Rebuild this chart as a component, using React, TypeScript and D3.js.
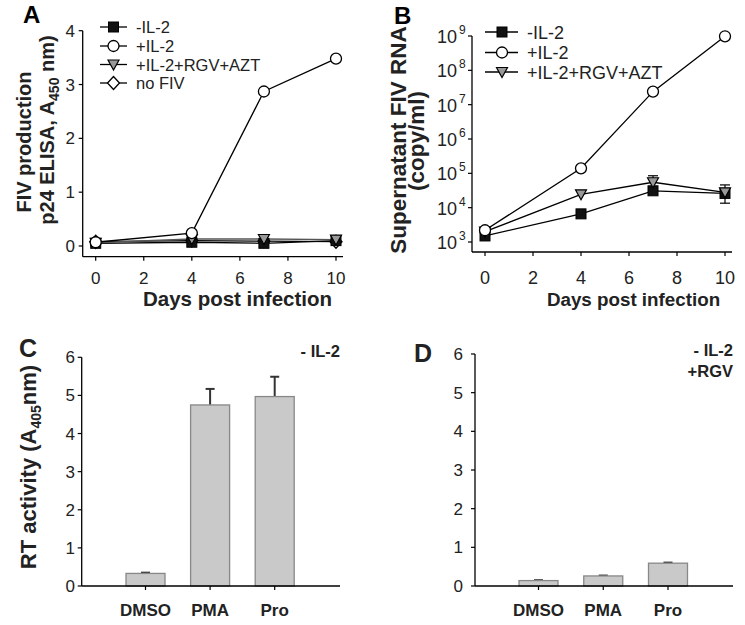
import React from "react";
import * as d3 from "d3";

const days = [0, 4, 7, 10];
// Panel A: p24 ELISA (A450)
const aMinusIL2 = [0.05, 0.07, 0.05, 0.1];
const aPlusIL2 = [0.07, 0.24, 2.87, 3.48];
const aRgvAzt = [0.06, 0.13, 0.13, 0.12];
const aNoFIV = [0.08, 0.1, 0.09, 0.08];
const aYTicks = [0, 1, 2, 3, 4];
const xTicks = [0, 2, 4, 6, 8, 10];

// Panel B: supernatant FIV RNA (copy/ml)
const bMinusIL2 = [1.5e3, 6.6e3, 3.1e4, 2.6e4];
const bMinusErrLo = [1.5e3, 6.6e3, 3.1e4, 1.35e4];
const bMinusErrHi = [1.5e3, 6.6e3, 3.1e4, 3.8e4];
const bPlusIL2 = [2.2e3, 1.4e5, 2.4e7, 9.8e8];
const bRgvAzt = [2.0e3, 2.45e4, 5.5e4, 2.8e4];
const bRgvErrHi = [2.0e3, 2.45e4, 8.5e4, 4.6e4];
const bYExp = [3, 4, 5, 6, 7, 8, 9];

// Panels C, D: RT activity
const drugs = ["DMSO", "PMA", "Pro"];
const cValues = [0.33, 4.75, 4.97];
const cErr = [0.02, 0.42, 0.52];
const dValues = [0.14, 0.26, 0.59];
const dErr = [0.01, 0.01, 0.015];
const rtTicks = [0, 1, 2, 3, 4, 5, 6];

const FONT = "'Liberation Sans', Arial, Helvetica, sans-serif";

type MarkerKind = "square" | "circle" | "triangle" | "diamond";

function Marker({ kind, x, y, s = 1 }: { kind: MarkerKind; x: number; y: number; s?: number }) {
  if (kind === "square")
    return <rect x={x - 5 * s} y={y - 5 * s} width={10 * s} height={10 * s} fill="#111" stroke="#000" strokeWidth={1} />;
  if (kind === "circle")
    return <circle cx={x} cy={y} r={5.5 * s} fill="#fff" stroke="#000" strokeWidth={1.3} />;
  if (kind === "triangle")
    return (
      <path
        d={`M${x - 5.5 * s},${y - 4.5 * s}L${x + 5.5 * s},${y - 4.5 * s}L${x},${y + 5.5 * s}Z`}
        fill="#999"
        stroke="#000"
        strokeWidth={1.2}
      />
    );
  return (
    <path
      d={`M${x},${y - 6.5 * s}L${x + 6 * s},${y}L${x},${y + 6.5 * s}L${x - 6 * s},${y}Z`}
      fill="#fff"
      stroke="#000"
      strokeWidth={1.3}
    />
  );
}

function PanelA() {
  const x = d3.scaleLinear().domain([0, 10]).range([95.7, 336]);
  const y = d3.scaleLinear().domain([0, 4]).range([246, 30.7]);
  const line = d3
    .line<number>()
    .x((_, i) => x(days[i]))
    .y((d) => y(d));
  const series: { vals: number[]; kind: MarkerKind; label: string; color: string }[] = [
    { vals: aNoFIV, kind: "diamond", label: "no FIV", color: "#000" },
    { vals: aMinusIL2, kind: "square", label: "-IL-2", color: "#000" },
    { vals: aRgvAzt, kind: "triangle", label: "+IL-2+RGV+AZT", color: "#555" },
    { vals: aPlusIL2, kind: "circle", label: "+IL-2", color: "#000" },
  ];
  const legend: { kind: MarkerKind; label: string }[] = [
    { kind: "square", label: "-IL-2" },
    { kind: "circle", label: "+IL-2" },
    { kind: "triangle", label: "+IL-2+RGV+AZT" },
    { kind: "diamond", label: "no FIV" },
  ];
  const legY = [27, 46, 64.5, 83];
  const axisY = 256.7;
  const axisX = 82.7;
  return (
    <g>
      <text x={23} y={23} fontSize={24} fontWeight="bold" fontFamily={FONT}>A</text>
      <line x1={axisX} x2={axisX} y1={y(4)} y2={axisY} stroke="#000" strokeWidth={1.3} />
      <line x1={axisX} x2={343} y1={axisY} y2={axisY} stroke="#000" strokeWidth={1.3} />
      {aYTicks.map((t) => (
        <g key={t}>
          <line x1={axisX - 4} x2={axisX} y1={y(t)} y2={y(t)} stroke="#000" strokeWidth={1.2} />
          <text x={75} y={y(t) + 6} fontSize={17} textAnchor="end" fontFamily={FONT} fill="#222">{t}</text>
        </g>
      ))}
      {xTicks.map((t) => (
        <g key={t}>
          <line x1={x(t)} x2={x(t)} y1={axisY} y2={axisY + 4} stroke="#000" strokeWidth={1.2} />
          <text x={x(t)} y={283.5} fontSize={17} textAnchor="middle" fontFamily={FONT} fill="#222">{t}</text>
        </g>
      ))}
      <text x={237.5} y={306} fontSize={20.5} fontWeight="bold" textAnchor="middle" fontFamily={FONT} fill="#222">
        Days post infection
      </text>
      <text transform="translate(31,142) rotate(-90)" fontSize={20} fontWeight="bold" textAnchor="middle" fontFamily={FONT} fill="#222">
        FIV production
      </text>
      <text transform="translate(54,130) rotate(-90)" fontSize={20} fontWeight="bold" textAnchor="middle" fontFamily={FONT} fill="#222">
        p24 ELISA, A<tspan fontSize={14} dy={5}>450</tspan><tspan dy={-5}> nm)</tspan>
      </text>
      {series.map((s) => (
        <path key={s.label} d={line(s.vals) || ""} fill="none" stroke={s.color} strokeWidth={1.3} />
      ))}
      {series.map((s) =>
        s.vals.map((v, i) => <Marker key={s.label + i} kind={s.kind} x={x(days[i])} y={y(v)} />)
      )}
      {legend.map((l, i) => (
        <g key={l.label}>
          <line x1={100} x2={127} y1={legY[i]} y2={legY[i]} stroke="#000" strokeWidth={1.3} />
          <Marker kind={l.kind} x={113.5} y={legY[i]} />
          <text x={136} y={legY[i] + 6} fontSize={16.5} fontFamily={FONT} fill="#222">{l.label}</text>
        </g>
      ))}
    </g>
  );
}

function PanelB() {
  const x = d3.scaleLinear().domain([0, 10]).range([485, 725]);
  const y = d3.scaleLog().domain([1e3, 1e9]).range([242, 36]);
  const line = d3
    .line<number>()
    .x((_, i) => x(days[i]))
    .y((d) => y(d));
  const axisX = 472;
  const axisY = 252;
  const legend: { kind: MarkerKind; label: string }[] = [
    { kind: "square", label: "-IL-2" },
    { kind: "circle", label: "+IL-2" },
    { kind: "triangle", label: "+IL-2+RGV+AZT" },
  ];
  const legY = [32, 52.5, 72];
  const capW = 5;
  return (
    <g>
      <text x={394} y={24} fontSize={24} fontWeight="bold" fontFamily={FONT}>B</text>
      <line x1={axisX} x2={axisX} y1={y(1e9)} y2={axisY} stroke="#000" strokeWidth={1.3} />
      <line x1={axisX} x2={732} y1={axisY} y2={axisY} stroke="#000" strokeWidth={1.3} />
      {bYExp.map((e) => (
        <g key={e}>
          <line x1={axisX - 4} x2={axisX} y1={y(Math.pow(10, e))} y2={y(Math.pow(10, e))} stroke="#000" strokeWidth={1.2} />
          <text x={437} y={y(Math.pow(10, e)) + 7} fontSize={18} fontFamily={FONT} fill="#222">
            10<tspan fontSize={12} dy={-9} dx={2}>{e}</tspan>
          </text>
        </g>
      ))}
      {xTicks.map((t) => (
        <g key={t}>
          <line x1={x(t)} x2={x(t)} y1={axisY} y2={axisY + 4} stroke="#000" strokeWidth={1.2} />
          <text x={x(t)} y={283.5} fontSize={18} textAnchor="middle" fontFamily={FONT} fill="#222">{t}</text>
        </g>
      ))}
      <text x={633.5} y={306} fontSize={18.8} fontWeight="bold" textAnchor="middle" fontFamily={FONT} fill="#222">
        Days post infection
      </text>
      <text transform="translate(406,140) rotate(-90)" fontSize={22.5} fontWeight="bold" textAnchor="middle" fontFamily={FONT} fill="#222">
        Supernatant FIV RNA
      </text>
      <text transform="translate(424,141) rotate(-90)" fontSize={22.5} fontWeight="bold" textAnchor="middle" fontFamily={FONT} fill="#222">
        (copy/ml)
      </text>
      {/* error bars */}
      {bRgvErrHi.map((v, i) =>
        v > bRgvAzt[i] ? (
          <g key={"re" + i}>
            <line x1={x(days[i])} x2={x(days[i])} y1={y(bRgvAzt[i])} y2={y(v)} stroke="#000" strokeWidth={1.2} />
            <line x1={x(days[i]) - capW} x2={x(days[i]) + capW} y1={y(v)} y2={y(v)} stroke="#000" strokeWidth={1.2} />
          </g>
        ) : null
      )}
      {bMinusErrLo.map((v, i) =>
        v < bMinusIL2[i] ? (
          <g key={"me" + i}>
            <line x1={x(days[i])} x2={x(days[i])} y1={y(bMinusErrHi[i])} y2={y(v)} stroke="#000" strokeWidth={1.2} />
            <line x1={x(days[i]) - capW} x2={x(days[i]) + capW} y1={y(v)} y2={y(v)} stroke="#000" strokeWidth={1.2} />
          </g>
        ) : null
      )}
      <path d={line(bMinusIL2) || ""} fill="none" stroke="#000" strokeWidth={1.3} />
      <path d={line(bRgvAzt) || ""} fill="none" stroke="#000" strokeWidth={1.3} />
      <path d={line(bPlusIL2) || ""} fill="none" stroke="#000" strokeWidth={1.3} />
      {bMinusIL2.map((v, i) => <Marker key={"bm" + i} kind="square" x={x(days[i])} y={y(v)} />)}
      {bRgvAzt.map((v, i) => <Marker key={"br" + i} kind="triangle" x={x(days[i])} y={y(v)} />)}
      {bPlusIL2.map((v, i) => <Marker key={"bp" + i} kind="circle" x={x(days[i])} y={y(v)} />)}
      {legend.map((l, i) => (
        <g key={l.label}>
          <line x1={485} x2={518} y1={legY[i]} y2={legY[i]} stroke="#000" strokeWidth={1.3} />
          <Marker kind={l.kind} x={502} y={legY[i]} />
          <text x={527} y={legY[i] + 6.5} fontSize={18} fontFamily={FONT} fill="#222">{l.label}</text>
        </g>
      ))}
    </g>
  );
}

function BarPanel({
  values,
  errs,
  axisX,
  xEnd,
  top,
  centers,
  letter,
  letterX,
  letterY,
  tickLabelX,
  notes,
  noteY,
  showYTitle,
}: {
  values: number[];
  errs: number[];
  axisX: number;
  xEnd: number;
  top: number;
  centers: [number, number];
  letter: string;
  letterX: number;
  letterY: number;
  tickLabelX: number;
  notes: string[];
  noteY: number;
  showYTitle: boolean;
}) {
  const axisY = 586;
  const y = d3.scaleLinear().domain([0, 6]).range([axisY, top]);
  const x = d3.scalePoint<string>().domain(drugs).range(centers);
  const bw = 39;
  return (
    <g>
      <text x={letterX} y={letterY} fontSize={25} fontWeight="bold" fontFamily={FONT} fill="#222">{letter}</text>
      {values.map((v, i) => {
        const cx = x(drugs[i]) as number;
        const ye = y(v + errs[i]);
        return (
          <g key={drugs[i]}>
            <line x1={cx} x2={cx} y1={y(v)} y2={ye} stroke="#333" strokeWidth={2} />
            <line x1={cx - 4.5} x2={cx + 4.5} y1={ye} y2={ye} stroke="#333" strokeWidth={2} />
            <rect x={cx - bw / 2} y={y(v)} width={bw} height={axisY - y(v)} fill="#c9c9c9" stroke="#888" strokeWidth={1.3} />
          </g>
        );
      })}
      <line x1={axisX} x2={axisX} y1={top} y2={axisY} stroke="#000" strokeWidth={1.3} />
      <line x1={axisX} x2={xEnd} y1={axisY} y2={axisY} stroke="#000" strokeWidth={1.3} />
      {rtTicks.map((t) => (
        <g key={t}>
          <line x1={axisX - 4} x2={axisX} y1={y(t)} y2={y(t)} stroke="#000" strokeWidth={1.2} />
          <text x={tickLabelX} y={y(t) + 6} fontSize={17} textAnchor="end" fontFamily={FONT} fill="#222">{t}</text>
        </g>
      ))}
      {drugs.map((d) => (
        <g key={d}>
          <line x1={x(d) as number} x2={x(d) as number} y1={axisY} y2={axisY + 4} stroke="#000" strokeWidth={1.2} />
          <text x={x(d) as number} y={616} fontSize={17} fontWeight="bold" textAnchor="middle" fontFamily={FONT} fill="#222">{d}</text>
        </g>
      ))}
      {notes.map((n, i) => (
        <text key={n} x={xEnd} y={noteY + i * 21.5} fontSize={16.5} fontWeight="bold" textAnchor="end" fontFamily={FONT} fill="#222">{n}</text>
      ))}
      {showYTitle && (
        <text transform="translate(36,467) rotate(-90)" fontSize={22} fontWeight="bold" textAnchor="middle" fontFamily={FONT} fill="#222">
          RT activity (A<tspan fontSize={14} dy={5}>405</tspan><tspan dy={-5}>nm)</tspan>
        </text>
      )}
    </g>
  );
}

export default function App() {
  return (
    <svg
      width={745}
      height={625}
      viewBox="0 0 745 625"
      style={{ position: "absolute", left: 0, top: 0, background: "#fff" }}
    >
      <rect width={745} height={625} fill="#fff" />
      <PanelA />
      <PanelB />
      <BarPanel
        values={cValues}
        errs={cErr}
        axisX={81.7}
        xEnd={340}
        top={357.3}
        centers={[145.5, 274.7]}
        letter="C"
        letterX={19}
        letterY={357}
        tickLabelX={75}
        notes={["- IL-2"]}
        noteY={357}
        showYTitle={true}
      />
      <BarPanel
        values={dValues}
        errs={dErr}
        axisX={475}
        xEnd={733}
        top={354}
        centers={[538.5, 668]}
        letter="D"
        letterX={414}
        letterY={362}
        tickLabelX={463}
        notes={["- IL-2", "+RGV"]}
        noteY={355.5}
        showYTitle={false}
      />
    </svg>
  );
}
